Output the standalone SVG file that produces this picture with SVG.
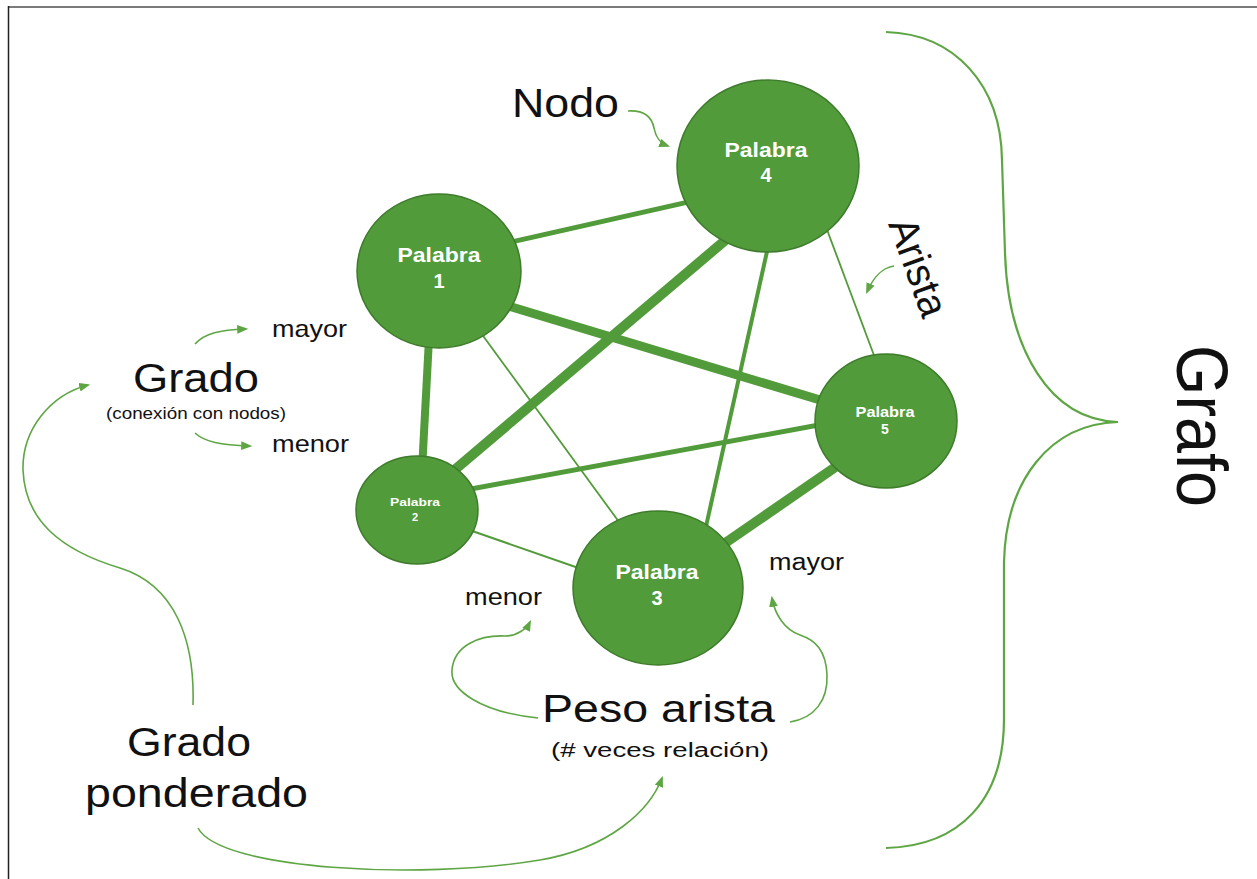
<svg xmlns="http://www.w3.org/2000/svg" width="1257" height="879" viewBox="0 0 1257 879">
<defs>
<style>
.edge{stroke:#529b3a;stroke-linecap:butt;fill:none}
.node{fill:#529b3a;stroke:#3e7b2c;stroke-width:1.5}
.nt{font-family:"Liberation Sans",Arial,sans-serif;font-weight:bold;fill:#ffffff;text-anchor:middle}
.lbl{font-family:"Liberation Sans",Arial,sans-serif;fill:#111111}
.arr{fill:none;stroke:#5ea644;stroke-width:1.6}
</style>
<marker id="ah" viewBox="0 0 10 8" refX="8" refY="4" markerWidth="11" markerHeight="9" markerUnits="userSpaceOnUse" orient="auto">
<path d="M0,0 L10,4 L0,8 z" fill="#5ea644"/>
</marker>
</defs>
<rect width="1257" height="879" fill="#ffffff"/>
<g id="border">
<line x1="8" y1="7" x2="1257" y2="7" stroke="#7a7a7a" stroke-width="2"/>
<line x1="8.5" y1="6" x2="8.5" y2="879" stroke="#222222" stroke-width="1.5"/>
</g>
<g id="connectors">
<line class="edge" x1="500" y1="244.5" x2="700" y2="199.4" stroke-width="5"/>
<line class="edge" x1="735" y1="232" x2="445" y2="478" stroke-width="10"/>
<line class="edge" x1="770" y1="238" x2="703" y2="540" stroke-width="4"/>
<line class="edge" x1="823" y1="219" x2="878" y2="366" stroke-width="1.8"/>
<line class="edge" x1="495" y1="302" x2="840" y2="406" stroke-width="9"/>
<line class="edge" x1="430" y1="320" x2="422" y2="470" stroke-width="8"/>
<line class="edge" x1="470" y1="318" x2="630" y2="537" stroke-width="1.8"/>
<line class="edge" x1="460" y1="491" x2="835" y2="422" stroke-width="5"/>
<line class="edge" x1="465" y1="528.5" x2="590" y2="572" stroke-width="2"/>
<line class="edge" x1="715" y1="550" x2="850" y2="457" stroke-width="10"/>
</g>
<g id="node1">
<ellipse class="node" cx="439" cy="271" rx="82" ry="77"/>
<text class="nt" x="439" y="262" font-size="20" textLength="83" lengthAdjust="spacingAndGlyphs">Palabra</text>
<text class="nt" x="439" y="288" font-size="20">1</text>
</g>
<g id="node2">
<ellipse class="node" cx="417" cy="510" rx="61" ry="54"/>
<text class="nt" x="415" y="506" font-size="11" textLength="50" lengthAdjust="spacingAndGlyphs">Palabra</text>
<text class="nt" x="415" y="521" font-size="11">2</text>
</g>
<g id="node3">
<ellipse class="node" cx="658" cy="588" rx="85" ry="77"/>
<text class="nt" x="657" y="579" font-size="20" textLength="83" lengthAdjust="spacingAndGlyphs">Palabra</text>
<text class="nt" x="657" y="605" font-size="20">3</text>
</g>
<g id="node4">
<ellipse class="node" cx="768" cy="166" rx="91" ry="86"/>
<text class="nt" x="766" y="157" font-size="20" textLength="83" lengthAdjust="spacingAndGlyphs">Palabra</text>
<text class="nt" x="766" y="182" font-size="20">4</text>
</g>
<g id="node5">
<ellipse class="node" cx="886" cy="421" rx="71" ry="67"/>
<text class="nt" x="885" y="417" font-size="14" textLength="59" lengthAdjust="spacingAndGlyphs">Palabra</text>
<text class="nt" x="885" y="434" font-size="14">5</text>
</g>
<g id="annotations">
<path d="M 886 32 C 955 34 1001 85 1002 160 L 1005 253 C 1008 350 1050 420 1118 422 C 1050 424 1006 480 1004 562 L 1004 719 C 1004 800 960 846 886 848" fill="none" stroke="#5ea644" stroke-width="2.2"/>
<text class="lbl" transform="rotate(90 1177 345)" x="1177" y="345" font-size="72" textLength="162" lengthAdjust="spacingAndGlyphs">Grafo</text>
<text class="lbl" x="512" y="117" font-size="41" textLength="107" lengthAdjust="spacingAndGlyphs">Nodo</text>
<path class="arr" d="M 628 111 C 645 110 652 118 654 128 C 656 138 660 143 668 146" marker-end="url(#ah)"/>
<text class="lbl" transform="rotate(70 888 224)" x="888" y="224" font-size="41" textLength="102" lengthAdjust="spacingAndGlyphs">Arista</text>
<path class="arr" d="M 894 266 C 882 268 874 276 867 292" marker-end="url(#ah)"/>
<text class="lbl" x="272" y="337" font-size="24" textLength="75" lengthAdjust="spacingAndGlyphs">mayor</text>
<text class="lbl" x="133" y="392" font-size="40" textLength="126" lengthAdjust="spacingAndGlyphs">Grado</text>
<text class="lbl" x="106" y="419" font-size="17" textLength="180" lengthAdjust="spacingAndGlyphs">(conexión con nodos)</text>
<text class="lbl" x="272" y="452" font-size="24" textLength="77" lengthAdjust="spacingAndGlyphs">menor</text>
<path class="arr" d="M 195 344 C 205 333 220 330 246 329" marker-end="url(#ah)"/>
<path class="arr" d="M 195 433 C 205 442 220 445 250 446" marker-end="url(#ah)"/>
<path class="arr" d="M 193 705 C 195 640 175 585 120 568 C 60 550 25 520 23 470 C 22 430 50 395 88 385" marker-end="url(#ah)"/>
<text class="lbl" x="127" y="756" font-size="40" textLength="124" lengthAdjust="spacingAndGlyphs">Grado</text>
<text class="lbl" x="85" y="807" font-size="41" textLength="223" lengthAdjust="spacingAndGlyphs">ponderado</text>
<path class="arr" d="M 198 828 C 220 870 420 880 540 860 C 610 848 650 810 662 778" marker-end="url(#ah)"/>
<text class="lbl" x="542" y="722" font-size="38" textLength="233" lengthAdjust="spacingAndGlyphs">Peso arista</text>
<text class="lbl" x="551" y="757" font-size="20" textLength="218" lengthAdjust="spacingAndGlyphs">(# veces relación)</text>
<text class="lbl" x="465" y="605" font-size="23" textLength="77" lengthAdjust="spacingAndGlyphs">menor</text>
<text class="lbl" x="769" y="570" font-size="23" textLength="75" lengthAdjust="spacingAndGlyphs">mayor</text>
<path class="arr" d="M 538 718 C 480 712 450 690 452 670 C 454 645 480 635 505 636 C 518 636 527 628 530 622" marker-end="url(#ah)"/>
<path class="arr" d="M 790 722 C 815 718 828 700 827 675 C 826 650 815 640 800 635 C 785 630 775 615 772 598" marker-end="url(#ah)"/>
</g>
</svg>
